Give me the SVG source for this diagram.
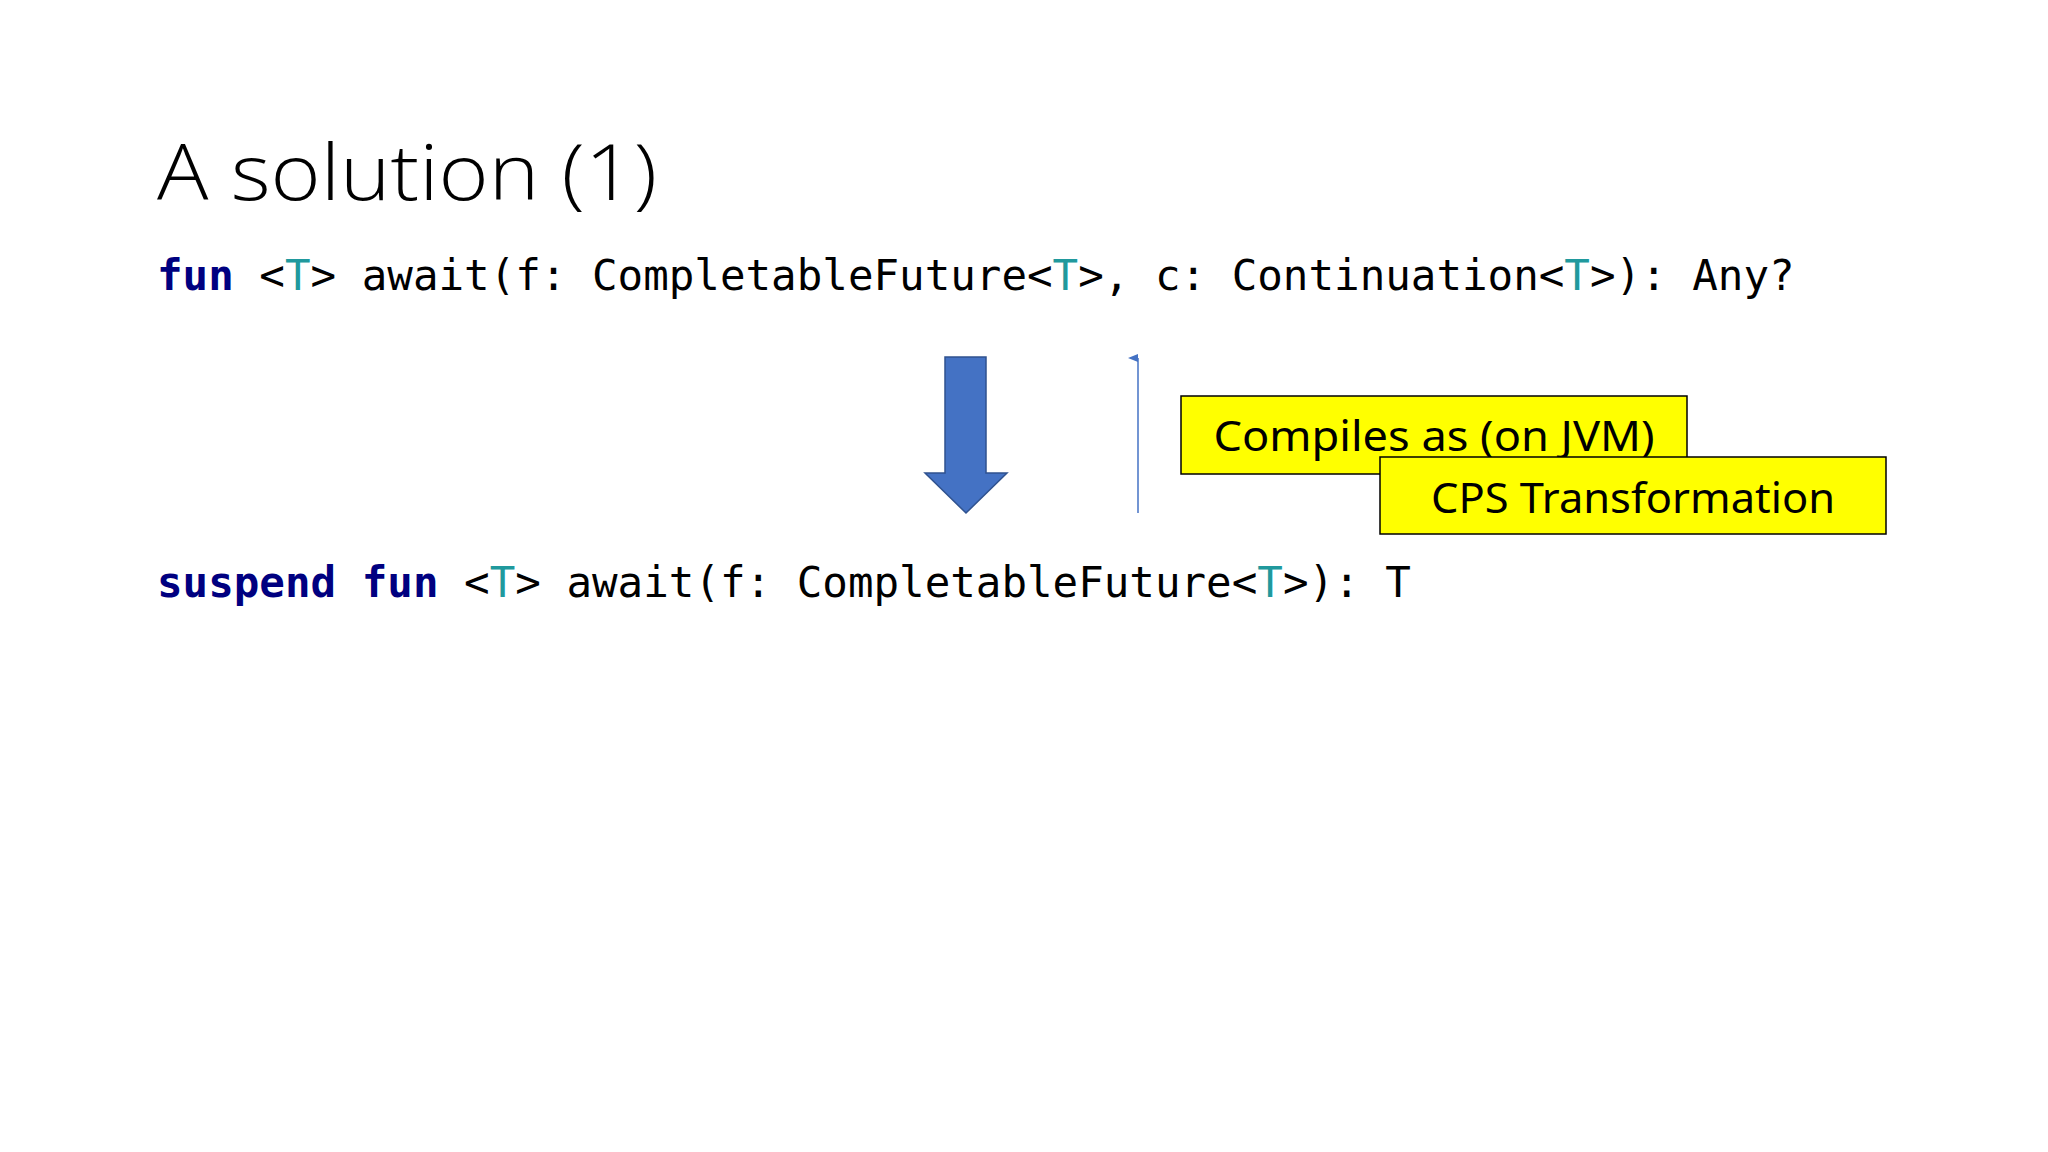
<svg xmlns="http://www.w3.org/2000/svg" width="2048" height="1152" viewBox="0 0 2048 1152">
<style>
.code{font-family:"DejaVu Sans Mono",monospace;font-size:42.5px;fill:#000}
.kw{fill:#000080;font-weight:bold}
.tp{fill:#20999D}
.box{fill:#FFFF00;stroke:#000;stroke-width:1.5}
.lbl{font-family:"Noto Sans","Liberation Sans",sans-serif;font-size:42px;fill:#000}
</style>
<defs><marker id="ah" markerWidth="8" markerHeight="10" refX="4" refY="10" orient="auto-start-reverse" markerUnits="userSpaceOnUse"><path d="M0,10 L4,0 L8,10 Z" fill="#4472C4"/></marker></defs>
<rect width="2048" height="1152" fill="#fff"/>
<text x="157" y="200" font-family="Open Sans,Liberation Sans,sans-serif" font-weight="300" font-size="78" textLength="500" lengthAdjust="spacingAndGlyphs">A solution (1)</text>
<g id="code1"><text class="code" x="157" y="290"><tspan class="kw">fun</tspan> &lt;<tspan class="tp">T</tspan>&gt; await(f: CompletableFuture&lt;<tspan class="tp">T</tspan>&gt;, c: Continuation&lt;<tspan class="tp">T</tspan>&gt;): Any?</text></g>
<g id="code2"><text class="code" x="157" y="597"><tspan class="kw">suspend</tspan> <tspan class="kw">fun</tspan> &lt;<tspan class="tp">T</tspan>&gt; await(f: CompletableFuture&lt;<tspan class="tp">T</tspan>&gt;): T</text></g>
<g id="connectors">
<path d="M945,357 H986 V473 H1007 L966,513 L925,473 H945 Z" fill="#4472C4" stroke="#2F528F" stroke-width="1.5"/>
<line x1="1138" y1="513" x2="1138" y2="358" stroke="#4472C4" stroke-width="1.5" marker-end="url(#ah)"/>
</g>
<g id="box1"><rect class="box" x="1181" y="396" width="506" height="78"/><text class="lbl" x="1434" y="451" text-anchor="middle" textLength="441" lengthAdjust="spacingAndGlyphs">Compiles as (on JVM)</text></g>
<g id="box2"><rect class="box" x="1380" y="457" width="506" height="77"/><text class="lbl" x="1633" y="513" text-anchor="middle" textLength="404" lengthAdjust="spacingAndGlyphs">CPS Transformation</text></g>
</svg>
